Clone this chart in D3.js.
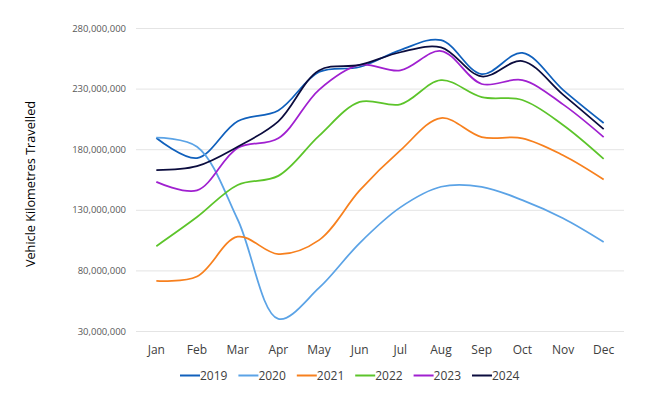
<!DOCTYPE html>
<html><head><meta charset="utf-8">
<script src="https://cdn.jsdelivr.net/npm/d3@7"></script>
<style>body{margin:0;background:#fff}svg{display:block;font-family:"Open Sans",sans-serif}</style>
</head><body><svg id="c" width="650" height="415"></svg>
<script>
const months = ["Jan","Feb","Mar","Apr","May","Jun","Jul","Aug","Sep","Oct","Nov","Dec"];
const yTicks = [30000000,80000000,130000000,180000000,230000000,280000000];
const years = ["2019","2020","2021","2022","2023","2024"];
const colors = ["#1060BC","#5BA3E6","#F7801E","#5CC42A","#A020D0","#0B0C3E"];
const v2019 = [189.2e6,172.7e6,203e6,212e6,243.7e6,247.8e6,261.8e6,270e6,242e6,259.4e6,229e6,201.6e6];
const v2020 = [189.5e6,182e6,122e6,40e6,65.5e6,102.6e6,132e6,149e6,149e6,138e6,123e6,103.4e6];
const v2021 = [71.3e6,75e6,107.8e6,93.5e6,105e6,146e6,179e6,205.7e6,190e6,189e6,175e6,155e6];
const v2022 = [100e6,124e6,150.5e6,158e6,191e6,219e6,217e6,237e6,223e6,220.6e6,200e6,172e6];
const v2023 = [153e6,146e6,181e6,189e6,229e6,249.5e6,245e6,261e6,233.8e6,237e6,217e6,190e6];
const v2024 = [162.8e6,166e6,182e6,203e6,245e6,249.5e6,260e6,264e6,240e6,252.7e6,225e6,196.6e6];
const series = [v2019,v2020,v2021,v2022,v2023,v2024];

const svg = d3.select("#c");
const L=136,R=624,T=28,B=331;
const x = d3.scaleBand().domain(months).range([L,R]);
const y = d3.scaleLinear().domain([30000000,280000000]).range([B,T]);

const g = svg.append("g");
g.selectAll("line.grid").data(yTicks).join("line")
 .attr("x1",L).attr("x2",R).attr("y1",d=>y(d)+0.5).attr("y2",d=>y(d)+0.5)
 .attr("stroke","#E4E4E4").attr("stroke-width",1);

const yAxis = svg.append("g").attr("transform",`translate(${L},0)`)
 .call(d3.axisLeft(y).tickValues(yTicks).tickSize(0).tickPadding(10).tickFormat(d3.format(",")));
yAxis.select(".domain").remove();
yAxis.selectAll("text").attr("fill","#595959").style("font-size","9.5px").style("font-family","Open Sans");

const xAxis = svg.append("g").attr("transform",`translate(0,${B})`)
 .call(d3.axisBottom(x).tickSize(0).tickPadding(14));
xAxis.select(".domain").remove();
xAxis.selectAll("text").attr("fill","#404040").style("font-size","12px").style("font-family","Open Sans");

svg.append("text").attr("transform","translate(35,184) rotate(-90)")
 .attr("text-anchor","middle").attr("fill","#000").style("font-size","12.7px").text("Vehicle Kilometres Travelled");

const line = d3.line().x((d,i)=>x(months[i])+x.bandwidth()/2).y(d=>y(d)).curve(d3.curveCatmullRom.alpha(0.5));
series.forEach((s,k)=>{
  svg.append("path").attr("d",line(s)).attr("fill","none").attr("stroke",colors[k]).attr("stroke-width",1.75);
});

const lg = svg.append("g");
years.forEach((yr,k)=>{
  const x0 = 180 + k*58.4;
  lg.append("line").attr("x1",x0).attr("x2",x0+20).attr("y1",375.5).attr("y2",375.5).attr("stroke",colors[k]).attr("stroke-width",2);
  lg.append("text").attr("x",x0+20).attr("y",380).attr("fill","#404040").style("font-size","12px").text(yr);
});
</script></body></html>
